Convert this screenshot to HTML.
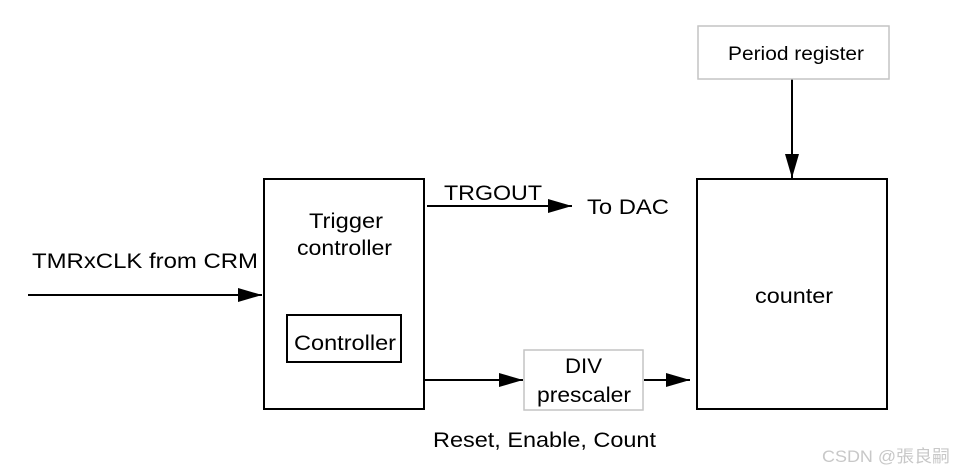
<!DOCTYPE html>
<html><head><style>body{margin:0;background:#fff}svg{display:block}</style></head><body>
<svg width="953" height="473" xmlns="http://www.w3.org/2000/svg" font-family="Liberation Sans, Arial, sans-serif" font-size="21" fill="#000">
<defs><marker id="a" markerWidth="24" markerHeight="14" refX="24" refY="7" orient="auto" markerUnits="userSpaceOnUse"><path d="M0,0 L24,7 L0,14 Z" fill="#000"/></marker></defs>
<g stroke="#000" stroke-width="2" fill="none">
<rect x="264" y="179" width="160" height="230"/>
<rect x="287" y="315" width="114" height="47"/>
<rect x="697" y="179" width="190" height="230"/>
<line x1="28" y1="295" x2="262" y2="295" marker-end="url(#a)"/>
<line x1="427" y1="206" x2="572" y2="206" marker-end="url(#a)"/>
<line x1="424" y1="380" x2="523" y2="380" marker-end="url(#a)"/>
<line x1="644" y1="380" x2="690" y2="380" marker-end="url(#a)"/>
<line x1="792" y1="79" x2="792" y2="178" marker-end="url(#a)"/>
</g>
<g stroke="#c4c4c4" stroke-width="1.5" fill="#fff">
<rect x="524" y="350" width="119" height="60"/>
<rect x="698" y="26" width="191" height="53"/>
</g>
<g>
<text x="32" y="268" textLength="226" lengthAdjust="spacingAndGlyphs">TMRxCLK  from CRM</text>
<text x="309" y="228" textLength="74" lengthAdjust="spacingAndGlyphs">Trigger</text>
<text x="297" y="255" textLength="95" lengthAdjust="spacingAndGlyphs">controller</text>
<text x="294" y="350" textLength="102" lengthAdjust="spacingAndGlyphs">Controller</text>
<text x="444" y="200" textLength="98" lengthAdjust="spacingAndGlyphs">TRGOUT</text>
<text x="587" y="214" textLength="82" lengthAdjust="spacingAndGlyphs">To DAC</text>
<text x="565" y="373" textLength="37" lengthAdjust="spacingAndGlyphs">DIV</text>
<text x="537" y="402" textLength="94" lengthAdjust="spacingAndGlyphs">prescaler</text>
<text x="755" y="303" textLength="78" lengthAdjust="spacingAndGlyphs">counter</text>
<text x="728" y="60" font-size="19" textLength="136" lengthAdjust="spacingAndGlyphs">Period register</text>
<text x="433" y="447" textLength="223" lengthAdjust="spacingAndGlyphs">Reset, Enable, Count</text>
<text x="822" y="462" font-size="17" fill="#c8c8c8" textLength="128" lengthAdjust="spacingAndGlyphs" font-family="Liberation Sans, Noto Sans CJK SC, sans-serif">CSDN @張良嗣</text>
</g>
</svg>
</body></html>
